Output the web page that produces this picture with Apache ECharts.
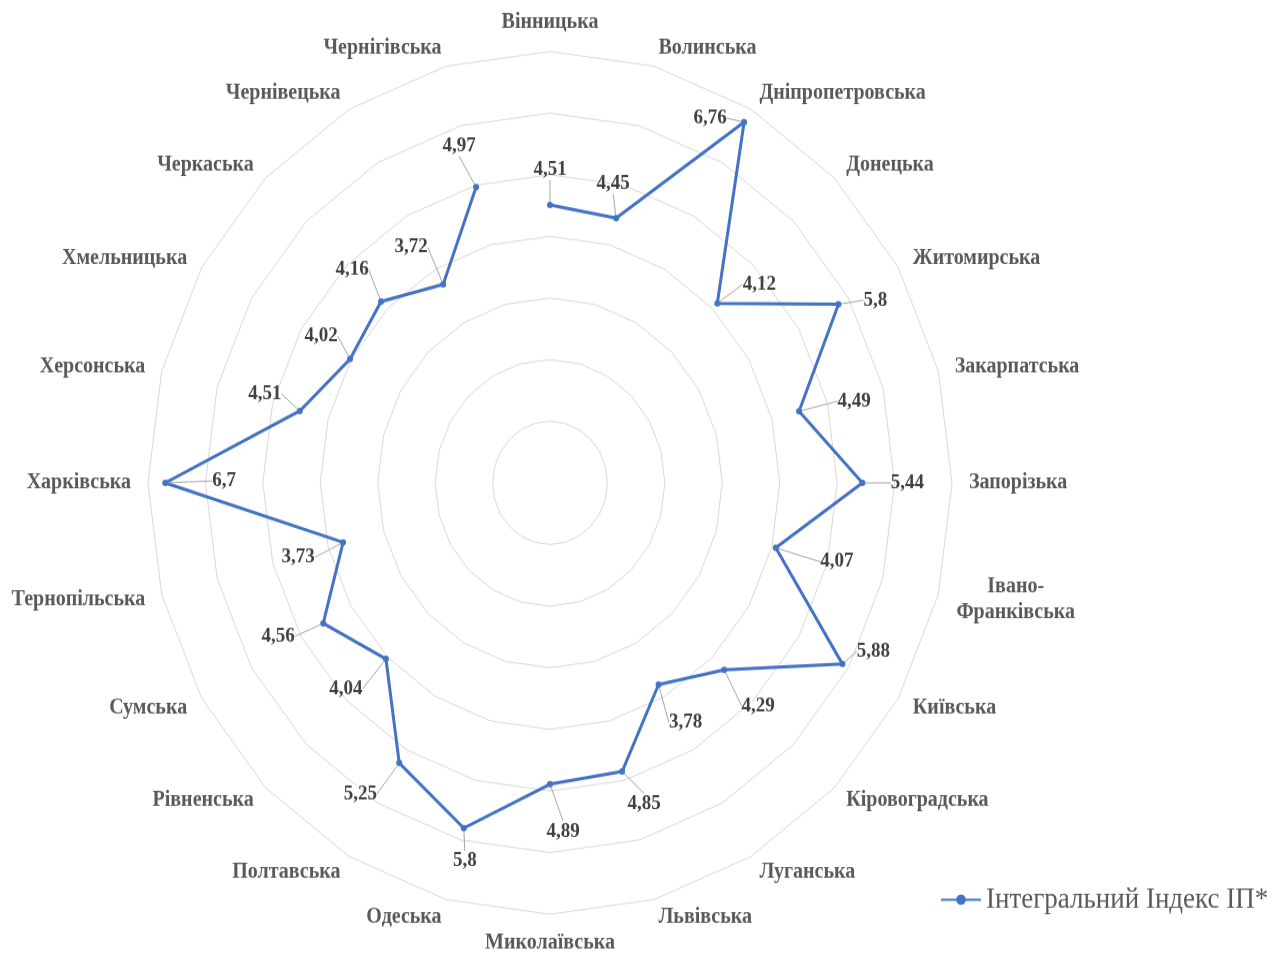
<!DOCTYPE html>
<html>
<head>
<meta charset="utf-8">
<script src="https://cdn.jsdelivr.net/npm/echarts@6/dist/echarts.min.js"></script>
<style>
  html, body { margin: 0; padding: 0; background: #ffffff; overflow: hidden; }
  #wrap { width: 1275px; height: 955px; overflow: hidden; }
  #chart { width: 1275px; height: 890px; transform: scaleY(1.073); transform-origin: 0 0; }
</style>
</head>
<body>
<div id="wrap"><div id="chart"></div></div>
<script>
// ---- data ----
const categories = [
  'Вінницька', 'Волинська', 'Дніпропетровська', 'Донецька', 'Житомирська',
  'Закарпатська', 'Запорізька', 'Івано-Франківська', 'Київська', 'Кіровоградська',
  'Луганська', 'Львівська', 'Миколаївська', 'Одеська', 'Полтавська',
  'Рівненська', 'Сумська', 'Тернопільська', 'Харківська', 'Херсонська',
  'Хмельницька', 'Черкаська', 'Чернівецька', 'Чернігівська'
];
const values = [
  4.51, 4.45, 6.76, 4.12, 5.80,
  4.49, 5.44, 4.07, 5.88, 4.29,
  3.78, 4.85, 4.89, 5.80, 5.25,
  4.04, 4.56, 3.73, 6.70, 4.51,
  4.02, 4.16, 3.72, 4.97
];
const seriesName = 'Інтегральний Індекс ІП*';
const axisMax = 7;
const axisStep = 1;

// ---- label placement (screen px offsets from point to label centre) ----
const labelOffsets = [
  [0, -35], [-3, -34], [-34, -4], [42, -19], [37, -4],
  [55, -10], [45, 0], [61, 14], [31, -13], [34, 36],
  [27, 38], [22, 32], [13, 47], [1, 33], [-39, 31],
  [-40, 30], [-45, 13], [-45, 15], [59, -2], [-35, -17],
  [-29, -23], [-29, -32], [-32, -37], [-17, -41]
];
const SY = 1.073;

const FONT = "'Liberation Serif', 'Times New Roman', serif";
const CX = 550, CY = 450, R = 402;

// radar runs counter-clockwise; feed indicators reversed after the first to go clockwise
const radarOrder = [categories[0]].concat(categories.slice(1).reverse());

const seriesData = values.map((v, i) => [v, categories[i]]);
seriesData.push({
  value: [values[0], categories[0]],
  symbol: 'none',
  label: { show: false },
  labelLine: { show: false }
});

const chart = echarts.init(document.getElementById('chart'), null, { renderer: 'canvas' });
chart.setOption({
  animation: false,
  backgroundColor: '#ffffff',
  radar: {
    center: [CX, CY],
    radius: R,
    startAngle: 90,
    shape: 'polygon',
    splitNumber: axisMax / axisStep,
    indicator: radarOrder.map(n => ({ name: n, min: 0, max: axisMax })),
    nameGap: 17,
    axisName: {
      color: '#595959',
      fontFamily: FONT,
      fontWeight: 'bold',
      fontSize: 20,
      formatter: function (name) {
        if (name.indexOf('-') > 0) {
          const parts = name.split('-');
          return '{c|' + parts[0] + '-}\n{c|' + parts[1] + '}';
        }
        return name;
      },
      rich: {
        c: {
          width: 122, align: 'center', color: '#595959', fontFamily: FONT,
          fontWeight: 'bold', fontSize: 20, lineHeight: 24
        }
      }
    },
    axisLine: { show: false },
    axisTick: { show: false },
    axisLabel: { show: false },
    splitArea: { show: false },
    splitLine: { lineStyle: { color: '#d9d9d9', width: 1 } }
  },
  polar: { center: [CX, CY], radius: R },
  angleAxis: {
    type: 'category',
    data: categories,
    boundaryGap: false,
    startAngle: 90,
    clockwise: true,
    axisLine: { show: false },
    axisTick: { show: false },
    axisLabel: { show: false },
    splitLine: { show: false }
  },
  radiusAxis: {
    type: 'value',
    min: 0,
    max: axisMax,
    interval: axisStep,
    axisLine: { show: false },
    axisTick: { show: false },
    axisLabel: { show: false },
    splitLine: { show: false }
  },
  legend: {
    data: [seriesName],
    left: 935,
    top: 820,
    itemWidth: 40,
    itemHeight: 12,
    textStyle: { color: '#595959', fontFamily: FONT, fontSize: 27 }
  },
  series: [{
    name: seriesName,
    type: 'line',
    coordinateSystem: 'polar',
    data: seriesData,
    symbol: 'circle',
    symbolSize: 6,
    lineStyle: { color: '#4472C4', width: 3 },
    itemStyle: { color: '#4472C4' },
    label: {
      show: true,
      position: 'inside',
      color: '#404040',
      fontFamily: FONT,
      fontWeight: 'bold',
      fontSize: 19,
      formatter: p => String(p.value[0]).replace('.', ',')
    },
    labelLine: {
      show: true,
      lineStyle: { color: '#a6a6a6', width: 1 }
    },
    labelLayout: function (params) {
      const o = labelOffsets[params.dataIndex];
      if (!o) return {};
      return { dx: o[0], dy: o[1] / SY };
    }
  }]
});
</script>
</body>
</html>
